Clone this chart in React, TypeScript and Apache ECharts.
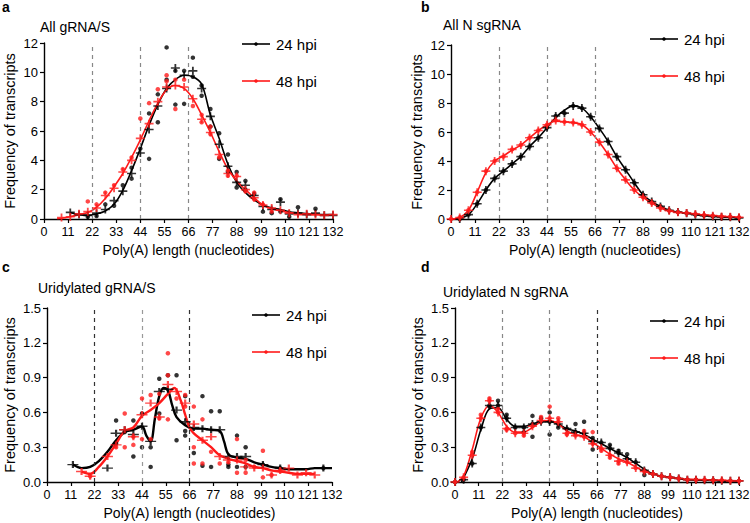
import React, { useEffect, useRef } from "react";
import * as echarts from "echarts";

// ---------- DATA ----------
const X_MAX = 132;
const X_STEP = 11;
const DASHED_X = [22, 44, 66];

// Panel a: All gRNA/S
const A24_FIT = [[12,0.45],[16,0.3],[20,0.25],[24,0.35],[28,0.55],[32,1.0],[36,1.95],[40,3.3],[44,4.8],[48,6.4],[52,7.8],[56,8.9],[60,9.5],[64,9.8],[68,9.7],[72,9.2],[76,7.1],[80,5.5],[84,3.75],[88,2.5],[92,1.8],[96,1.3],[100,0.95],[104,0.75],[108,0.65],[112,0.5],[116,0.43],[120,0.38],[124,0.33],[128,0.3],[132,0.3]];
const A48_FIT = [[6,0.02],[8,0.05],[12,0.15],[16,0.3],[20,0.45],[24,0.8],[28,1.4],[32,2.2],[36,3.1],[40,4.2],[44,5.4],[48,6.7],[52,7.9],[56,8.8],[60,9.1],[64,8.9],[68,8.2],[72,7.1],[76,5.9],[80,4.6],[84,3.4],[88,2.6],[92,2.0],[96,1.45],[100,0.95],[104,0.7],[108,0.55],[112,0.45],[116,0.35],[120,0.3],[124,0.3],[128,0.28],[132,0.28]];
const A24_MEAN = [[12,0.45],[16,0.3],[20,0.25],[24,0.4],[28,0.65],[32,1.25],[36,1.9],[40,3.1],[44,4.5],[48,6.1],[52,7.7],[56,8.9],[60,10.3],[64,9.8],[68,10.1],[72,8.9],[76,7.0],[80,5.1],[84,3.6],[88,2.5],[92,2.3],[96,1.6],[100,0.85],[104,0.65],[108,1.15],[112,0.35],[116,0.4],[120,0.3],[124,0.4],[128,0.25],[132,0.25]];
const A48_MEAN = [[8,0.1],[12,0.15],[16,0.35],[20,0.5],[24,0.75],[28,1.6],[32,2.1],[36,3.2],[40,4.0],[44,5.5],[48,6.5],[52,8.0],[56,9.0],[60,9.1],[64,9.0],[68,8.2],[72,6.8],[76,5.9],[80,4.4],[84,3.1],[88,2.9],[92,2.0],[96,1.45],[100,0.95],[104,0.75],[108,0.6],[112,0.4],[116,0.3],[120,0.35],[124,0.3],[128,0.25],[132,0.3]];
const A24_REPS = [[56,11.7],[56,9.5],[60,10.1],[60,7.8],[52,8.5],[52,6.6],[48,7.2],[48,4.1],[44,4.8],[40,2.75],[40,3.5],[36,2.3],[32,0.9],[28,1.0],[64,10.1],[64,7.85],[68,11.0],[68,9.7],[72,9.1],[72,8.4],[76,7.5],[76,6.3],[80,5.85],[80,4.1],[84,4.4],[84,3.2],[88,3.2],[88,2.15],[92,2.6],[92,2.0],[96,1.7],[100,0.5],[104,0.4],[108,1.35],[108,0.5],[112,0.15],[116,0.8],[124,0.7],[20,0.15],[24,0.2]];
const A48_REPS = [[56,9.8],[56,9.4],[60,7.5],[60,9.5],[52,8.85],[44,6.85],[48,7.9],[20,1.2],[64,9.5],[68,7.7],[72,7.1],[72,6.6],[76,6.3],[76,5.8],[80,4.2],[84,3.3],[84,2.95],[88,2.95],[92,1.9],[96,1.35],[96,1.8],[100,1.0],[104,0.5],[24,1.0],[28,1.8],[32,2.3],[36,3.4],[40,4.2]];

// Panel b: All N sgRNA
const B24_FIT = [[3,0],[8,0.3],[12,1.05],[16,2.0],[20,2.8],[24,3.3],[28,3.8],[32,4.3],[36,5.0],[40,5.6],[44,6.3],[48,7.0],[52,7.5],[56,7.8],[60,7.65],[64,7.05],[68,6.25],[72,5.35],[76,4.3],[80,3.4],[84,2.5],[88,1.67],[92,1.2],[96,0.87],[100,0.6],[104,0.48],[108,0.4],[112,0.3],[116,0.23],[120,0.18],[124,0.14],[128,0.12],[132,0.08]];
const B48_FIT = [[0,0],[4,0.1],[8,0.6],[12,1.85],[16,3.2],[20,4.0],[24,4.35],[28,4.75],[32,5.1],[36,5.6],[40,6.1],[44,6.5],[48,6.75],[52,6.7],[56,6.65],[60,6.5],[64,6.0],[68,5.3],[72,4.45],[76,3.5],[80,2.7],[84,2.0],[88,1.5],[92,1.1],[96,0.76],[100,0.57],[104,0.46],[108,0.41],[112,0.34],[116,0.28],[120,0.23],[124,0.18],[128,0.16],[132,0.12]];
const B24_MEAN = [[4,0.0],[8,0.3],[12,1.05],[16,2.0],[20,2.8],[24,3.3],[28,3.8],[32,4.3],[36,5.0],[40,5.6],[44,6.3],[48,7.1],[52,7.3],[56,7.8],[60,7.65],[64,7.05],[68,6.25],[72,5.35],[76,4.3],[80,3.4],[84,2.5],[88,1.67],[92,1.2],[96,0.87],[100,0.6],[104,0.48],[108,0.4],[112,0.3],[116,0.23],[120,0.18],[124,0.14],[128,0.12],[132,0.08]];
const B48_MEAN = [[0,0.0],[4,0.1],[8,0.6],[12,1.85],[16,3.3],[20,4.0],[24,4.3],[28,4.8],[32,5.1],[36,5.6],[40,6.1],[44,6.5],[48,6.8],[52,6.7],[56,6.65],[60,6.5],[64,6.0],[68,5.3],[72,4.45],[76,3.5],[80,2.7],[84,2.0],[88,1.5],[92,1.1],[96,0.76],[100,0.57],[104,0.46],[108,0.41],[112,0.34],[116,0.28],[120,0.23],[124,0.18],[128,0.16],[132,0.12]];

// Panel c: Uridylated gRNA/S
const C24_FIT = [[12,0.15],[16,0.12],[20,0.13],[24,0.18],[28,0.26],[32,0.36],[36,0.43],[40,0.45],[44,0.48],[46,0.4],[48,0.35],[50,0.55],[52,0.74],[54,0.81],[56,0.79],[58,0.66],[60,0.56],[64,0.49],[68,0.46],[72,0.46],[76,0.45],[80,0.44],[82,0.35],[84,0.24],[88,0.21],[92,0.2],[96,0.17],[100,0.15],[104,0.13],[108,0.12],[112,0.11],[116,0.11],[120,0.11],[124,0.12],[128,0.12],[132,0.12]];
const C48_FIT = [[16,0.09],[20,0.07],[24,0.13],[28,0.22],[32,0.33],[36,0.44],[40,0.47],[44,0.57],[48,0.62],[52,0.68],[56,0.76],[59,0.81],[62,0.7],[64,0.58],[66,0.47],[68,0.42],[72,0.36],[76,0.3],[80,0.23],[84,0.2],[88,0.18],[92,0.16],[96,0.13],[100,0.12],[104,0.1],[108,0.09],[112,0.08],[116,0.07],[120,0.07],[124,0.07]];
const C24_MEAN = [[12,0.15],[28,0.12],[32,0.42],[36,0.45],[40,0.41],[44,0.48],[48,0.35],[52,0.78],[56,0.8],[60,0.62],[64,0.52],[68,0.47],[72,0.46],[76,0.45],[80,0.45],[84,0.22],[88,0.22],[92,0.22],[100,0.15],[108,0.12],[128,0.12]];
const C48_MEAN = [[16,0.09],[20,0.05],[28,0.22],[32,0.32],[36,0.45],[40,0.39],[44,0.58],[48,0.68],[52,0.56],[56,0.84],[60,0.78],[64,0.68],[68,0.5],[72,0.36],[76,0.39],[80,0.22],[84,0.19],[88,0.19],[92,0.13],[96,0.12],[100,0.12],[104,0.06],[108,0.1],[112,0.12],[116,0.06],[120,0.08],[124,0.06]];
const C24_REPS = [[32,0.53],[32,0.33],[36,0.43],[40,0.53],[40,0.22],[44,0.59],[44,0.3],[48,0.13],[48,0.3],[52,0.89],[52,0.59],[56,0.92],[60,0.92],[60,0.36],[64,0.74],[64,0.44],[64,0.4],[68,0.25],[72,0.74],[72,0.14],[76,0.61],[76,0.13],[80,0.61],[84,0.13],[84,0.15],[88,0.4],[88,0.13],[92,0.3],[92,0.13],[100,0.15],[108,0.12],[128,0.12]];
const C48_REPS = [[20,0.05],[32,0.3],[36,0.59],[36,0.3],[40,0.39],[40,0.32],[44,0.72],[44,0.37],[48,0.75],[48,0.37],[52,0.76],[52,0.55],[56,1.11],[56,0.92],[56,0.54],[60,0.72],[64,0.75],[64,0.65],[68,0.65],[68,0.3],[68,0.16],[72,0.54],[72,0.16],[76,0.26],[80,0.16],[84,0.17],[88,0.37],[88,0.08],[92,0.19],[92,0.08],[96,0.13],[100,0.27],[100,0.04],[104,0.06],[108,0.1]];

// Panel d: Uridylated N sgRNA
const D24_FIT = [[3,0],[8,0.2],[12,0.45],[16,0.63],[20,0.64],[24,0.54],[28,0.48],[32,0.48],[36,0.5],[40,0.52],[44,0.52],[48,0.5],[52,0.46],[56,0.44],[60,0.41],[64,0.37],[68,0.33],[72,0.29],[76,0.25],[80,0.21],[84,0.16],[88,0.11],[92,0.07],[96,0.05],[100,0.04],[108,0.02],[116,0.015],[124,0.01],[132,0.01]];
const D48_FIT = [[1,0],[4,0.05],[8,0.28],[12,0.55],[16,0.66],[20,0.6],[24,0.48],[28,0.43],[32,0.43],[36,0.47],[40,0.52],[44,0.53],[48,0.5],[52,0.44],[56,0.41],[60,0.39],[64,0.34],[68,0.29],[72,0.24],[76,0.2],[80,0.17],[84,0.13],[88,0.09],[92,0.07],[96,0.05],[100,0.04],[108,0.025],[116,0.02],[124,0.015],[132,0.01]];
const D24_MEAN = [[0,0.0],[4,0.02],[8,0.16],[12,0.47],[16,0.66],[20,0.66],[24,0.55],[28,0.47],[32,0.47],[36,0.5],[40,0.52],[44,0.52],[48,0.5],[52,0.46],[56,0.43],[60,0.42],[64,0.35],[68,0.34],[72,0.29],[76,0.25],[80,0.2],[84,0.17],[88,0.1],[92,0.07],[96,0.05],[100,0.04],[104,0.03],[108,0.02],[112,0.02],[116,0.015],[120,0.015],[124,0.01],[128,0.01],[132,0.01]];
const D48_MEAN = [[0,0.0],[4,0.04],[8,0.23],[12,0.55],[16,0.7],[20,0.6],[24,0.46],[28,0.42],[32,0.42],[36,0.48],[40,0.53],[44,0.55],[48,0.52],[52,0.42],[56,0.4],[60,0.39],[64,0.33],[68,0.29],[72,0.23],[76,0.18],[80,0.17],[84,0.12],[88,0.09],[92,0.07],[96,0.05],[100,0.04],[104,0.03],[108,0.02],[112,0.02],[116,0.02],[120,0.015],[124,0.015],[128,0.01],[132,0.01]];
const D24_REPS = [[16,0.65],[20,0.7],[24,0.58],[32,0.43],[36,0.57],[36,0.39],[40,0.55],[44,0.6],[44,0.41],[48,0.47],[56,0.5],[60,0.52],[64,0.28],[64,0.38],[72,0.32],[76,0.27],[80,0.24],[88,0.06]];
const D48_REPS = [[8,0.26],[12,0.58],[16,0.72],[20,0.63],[24,0.45],[32,0.4],[40,0.56],[44,0.65],[48,0.55],[52,0.41],[60,0.44],[64,0.43],[68,0.27],[72,0.21],[76,0.16]];

const TITLES = ["All gRNA/S", "All N sgRNA", "Uridylated gRNA/S", "Uridylated N sgRNA"];
const PANEL_LABELS = ["a", "b", "c", "d"];
const LEGEND_NAMES = ["24 hpi", "48 hpi"];
const X_NAME = "Poly(A) length (nucleotides)";
const Y_NAME = "Frequency of transcripts";

// ---------- LAYOUT ----------
const FONT = "'Liberation Sans', Arial, Helvetica, sans-serif";
const BLACK = "#000000";
const RED = "#ff1a1a";
const PLUS = "path://M4,0H6V4H10V6H6V10H4V6H0V4H4Z";

const PANELS = [
  { grid: { left: 44, top: 43, width: 289, height: 176 }, yMax: 12, yInt: 2, dec: 0, fit: [A24_FIT, A48_FIT], mean: [A24_MEAN, A48_MEAN], reps: [A24_REPS, A48_REPS], meanDots: false, lw: 1.6, nameGapY: 27, dash: ["#888", "#888", "#888"] },
  { grid: { left: 451, top: 45, width: 288, height: 174 }, yMax: 12, yInt: 2, dec: 0, fit: [B24_FIT, B48_FIT], mean: [B24_MEAN, B48_MEAN], reps: [[], []], meanDots: true, lw: 1.6, nameGapY: 27, dash: ["#888", "#888", "#888"] },
  { grid: { left: 47, top: 308, width: 285, height: 174 }, yMax: 1.5, yInt: 0.3, dec: 1, fit: [C24_FIT, C48_FIT], mean: [C24_MEAN, C48_MEAN], reps: [C24_REPS, C48_REPS], meanDots: false, lw: 2.4, nameGapY: 30, dash: ["#333", "#999", "#333"] },
  { grid: { left: 455, top: 308, width: 284, height: 174 }, yMax: 1.5, yInt: 0.3, dec: 1, fit: [D24_FIT, D48_FIT], mean: [D24_MEAN, D48_MEAN], reps: [D24_REPS, D48_REPS], meanDots: true, lw: 1.6, nameGapY: 30, dash: ["#888", "#888", "#333"] },
];

const TITLE_POS = [[40, 20], [443, 18], [38, 281], [443, 285]];
const LABEL_POS = [[2, 0], [421, 0], [2, 260], [421, 260]];
const LEGEND_POS = [
  { x: 242, y: [44, 81], tx: 276 },
  { x: 650, y: [39, 76], tx: 684 },
  { x: 252, y: [315, 352], tx: 286 },
  { x: 650, y: [321, 358], tx: 684 },
];

function buildOption() {
  const grid: any[] = [];
  const xAxis: any[] = [];
  const yAxis: any[] = [];
  const series: any[] = [];
  const graphic: any[] = [];
  const colors = [BLACK, RED];

  PANELS.forEach((p, i) => {
    grid.push({ ...p.grid, containLabel: false, outerBoundsMode: "none" });
    xAxis.push({
      gridIndex: i, type: "value", min: 0, max: X_MAX, interval: X_STEP,
      name: X_NAME, nameLocation: "middle", nameGap: 24,
      nameTextStyle: { fontFamily: FONT, fontSize: 14, color: BLACK },
      axisLine: { show: true, onZero: false, lineStyle: { color: BLACK, width: 1.4 } },
      axisTick: { show: true, inside: false, length: 4, lineStyle: { color: BLACK, width: 1.2 } },
      axisLabel: { fontFamily: FONT, fontSize: 12.5, color: BLACK, margin: 6, hideOverlap: false },
      splitLine: { show: false },
    });
    yAxis.push({
      gridIndex: i, type: "value", min: 0, max: p.yMax, interval: p.yInt,
      name: Y_NAME, nameLocation: "middle", nameGap: p.nameGapY,
      nameTextStyle: { fontFamily: FONT, fontSize: 14.5, color: BLACK },
      axisLine: { show: true, lineStyle: { color: BLACK, width: 1.4 } },
      axisTick: { show: true, inside: false, length: 4, lineStyle: { color: BLACK, width: 1.2 } },
      axisLabel: { fontFamily: FONT, fontSize: 13, color: BLACK, margin: 6, formatter: (v: number) => v.toFixed(p.dec) },
      splitLine: { show: false },
    });

    [0, 1].forEach((k) => {
      const c = colors[k];
      series.push({
        type: "line", name: LEGEND_NAMES[k], xAxisIndex: i, yAxisIndex: i,
        data: p.fit[k], smooth: 0.35, showSymbol: false, symbol: "none",
        lineStyle: { color: c, width: p.lw }, z: 3 + k,
        ...(k === 0 ? {
          markLine: {
            silent: true, symbol: ["none", "none"], label: { show: false },
            data: DASHED_X.map((x, j) => ({ xAxis: x, lineStyle: { type: [4, 4], color: p.dash[j], width: 1.2 } })),
          },
        } : {}),
      });
      series.push({
        type: "scatter", name: LEGEND_NAMES[k] + " mean", xAxisIndex: i, yAxisIndex: i,
        data: p.mean[k], symbol: PLUS, symbolSize: i === 2 ? [11, 7] : [9, 8],
        itemStyle: { color: c }, z: 5 + k,
      });
      if (p.meanDots) {
        series.push({
          type: "scatter", name: LEGEND_NAMES[k] + " dots", xAxisIndex: i, yAxisIndex: i,
          data: p.mean[k], symbol: "circle", symbolSize: 4.5,
          itemStyle: { color: c }, z: 5 + k,
        });
      }
      series.push({
        type: "scatter", name: LEGEND_NAMES[k] + " reps", xAxisIndex: i, yAxisIndex: i,
        data: p.reps[k], symbol: "circle", symbolSize: 4.5,
        itemStyle: { color: c }, z: 4 + k,
      });
    });

    graphic.push({
      type: "text", left: TITLE_POS[i][0], top: TITLE_POS[i][1],
      style: { text: TITLES[i], font: `14px ${FONT}`, fill: BLACK },
    });
    graphic.push({
      type: "text", left: LABEL_POS[i][0], top: LABEL_POS[i][1],
      style: { text: PANEL_LABELS[i], font: `bold 14px ${FONT}`, fill: BLACK },
    });
    const L = LEGEND_POS[i];
    [0, 1].forEach((k) => {
      const y = L.y[k];
      graphic.push({ type: "line", shape: { x1: L.x, y1: y, x2: L.x + 28, y2: y }, style: { stroke: colors[k], lineWidth: 1.6 } });
      graphic.push({ type: "circle", shape: { cx: L.x + 14, cy: y, r: 1.8 }, style: { fill: colors[k] } });
      graphic.push({
        type: "text", x: L.tx, y: y,
        style: { text: LEGEND_NAMES[k], font: `15px ${FONT}`, fill: BLACK, verticalAlign: "middle", textVerticalAlign: "middle" },
      });
    });
  });

  return {
    animation: false,
    backgroundColor: "#ffffff",
    textStyle: { fontFamily: FONT },
    grid, xAxis, yAxis, series, graphic,
  };
}

export default function App() {
  const ref = useRef<HTMLDivElement>(null);
  useEffect(() => {
    if (!ref.current) return;
    const chart = echarts.init(ref.current, undefined, { renderer: "svg" });
    chart.setOption(buildOption() as any);
    return () => chart.dispose();
  }, []);
  return (
    <div
      ref={ref}
      style={{ position: "fixed", left: 0, top: 0, width: 750, height: 523, background: "#fff" }}
    />
  );
}
